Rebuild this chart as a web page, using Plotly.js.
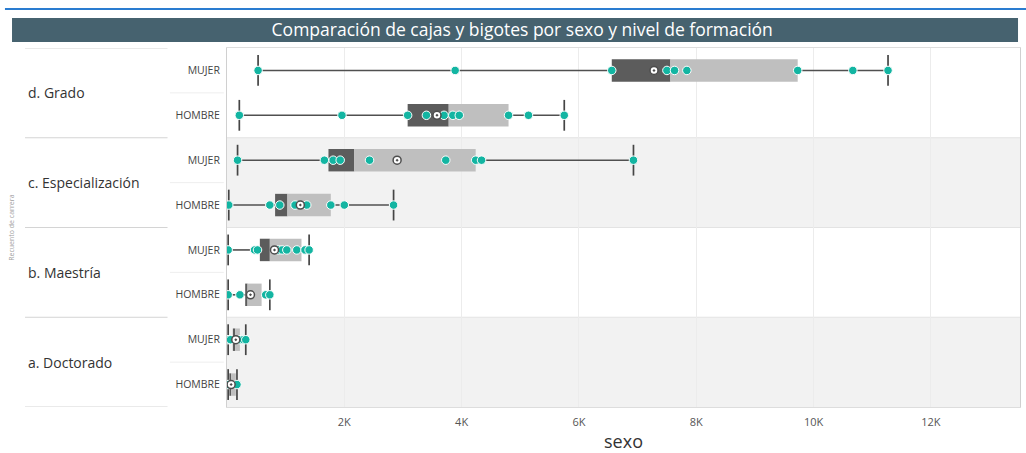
<!DOCTYPE html>
<html>
<head>
<meta charset="utf-8">
<script src="https://cdn.plot.ly/plotly-3.0.1.min.js"></script>
<style>html,body{margin:0;padding:0;background:#fff;}#chart{width:1026px;height:453px;}</style>
</head>
<body>
<div id="chart"></div>
<script>
// ---- data ----
const groups = ['d. Grado', 'c. Especialización', 'b. Maestría', 'a. Doctorado'];
const sexes = ['MUJER', 'HOMBRE'];
// one entry per row, top to bottom (group, sexo)
const rowMin    = [530,   210,  180,  30,   20,   20,  20,  20];
const rowQ1     = [6560,  3080, 1730, 820,  560,  310, 100, 40];
const rowMedian = [7560,  3780, 2170, 1030, 730,  350, 140, 70];
const rowQ3     = [9730,  4800, 4240, 1770, 1270, 590, 220, 150];
const rowMax    = [11270, 5750, 6930, 2840, 1400, 730, 320, 170];
const rowMean   = [7280,  3580, 2900, 1250, 810,  400, 150, 70];
const rowPoints = [
  [530, 3890, 6560, 7500, 7630, 7840, 9730, 10670, 11270],
  [210, 1960, 3080, 3400, 3700, 3850, 3960, 4800, 5140, 5750],
  [180, 1660, 1810, 1930, 2430, 3730, 4240, 4340, 6930],
  [30, 730, 900, 1160, 1360, 1770, 2000, 2840],
  [20, 470, 520, 880, 940, 1020, 1190, 1330, 1400],
  [20, 220, 660, 730],
  [20, 60, 220, 280, 320],
  [20, 170]
];
const xTickVals = [2000, 4000, 6000, 8000, 10000, 12000];
const xTickText = ['2K', '4K', '6K', '8K', '10K', '12K'];

// ---- build ----
const nRows = groups.length * sexes.length;
const rowPos = [], rowLabel = [];
for (let g = 0; g < groups.length; g++) {
  for (let s = 0; s < sexes.length; s++) {
    rowPos.push(g * sexes.length + s + 0.5);
    rowLabel.push(sexes[s]);
  }
}

const teal = '#13b5a2';
const whiskX = [], whiskY = [];
for (let i = 0; i < nRows; i++) {
  whiskX.push(rowMin[i], rowQ1[i], null, rowQ3[i], rowMax[i], null);
  whiskY.push(rowPos[i], rowPos[i], null, rowPos[i], rowPos[i], null);
}
const capX = [], capY = [];
for (let i = 0; i < nRows; i++) {
  capX.push(rowMin[i], rowMax[i]);
  capY.push(rowPos[i], rowPos[i]);
}
const ptX = [], ptY = [];
for (let i = 0; i < nRows; i++) {
  rowPoints[i].forEach(v => { ptX.push(v); ptY.push(rowPos[i]); });
}

const traces = [
  { type: 'bar', orientation: 'h', y: rowPos, base: rowQ1,
    x: rowMedian.map((m, i) => m - rowQ1[i]), width: 0.5,
    marker: { color: '#5c5c5c', line: { width: 0 } }, hoverinfo: 'skip' },
  { type: 'bar', orientation: 'h', y: rowPos, base: rowMedian,
    x: rowQ3.map((q, i) => q - rowMedian[i]), width: 0.5,
    marker: { color: '#bfbfbf', line: { width: 0 } }, hoverinfo: 'skip' },
  { type: 'scatter', mode: 'lines', x: whiskX, y: whiskY,
    line: { color: '#505050', width: 1.6 }, hoverinfo: 'skip' },
  { type: 'scatter', mode: 'markers', x: capX, y: capY,
    marker: { symbol: 'line-ns', size: 22, line: { color: '#454545', width: 1.7 } }, hoverinfo: 'skip' },
  { type: 'scatter', mode: 'markers', x: ptX, y: ptY,
    marker: { color: teal, size: 8.5, line: { color: '#ffffff', width: 1 } } },
  { type: 'scatter', mode: 'markers', x: rowMean, y: rowPos,
    marker: { symbol: 'circle-dot', color: '#ffffff', size: 8, line: { color: '#4d4d4d', width: 1.5 } } }
];

const shapes = [];
const annotations = [];
// title bar + top blue line
shapes.push({ type: 'rect', xref: 'paper', yref: 'paper', x0: -0.2711, x1: 0.9975, y0: 1.0167, y1: 1.0836,
  fillcolor: '#46626f', line: { width: 0 }, layer: 'below' });
shapes.push({ type: 'line', xref: 'paper', yref: 'paper', x0: -0.28, x1: 1.008, y0: 1.1085, y1: 1.1085,
  line: { color: '#2a7cd0', width: 2 } });
// bands and separators
for (let g = 0; g < groups.length; g++) {
  const y0 = g * sexes.length, y1 = y0 + sexes.length;
  if (g % 2 === 1) {
    shapes.push({ type: 'rect', xref: 'paper', yref: 'y', x0: 0, x1: 1, y0: y0, y1: y1,
      fillcolor: '#f2f2f2', line: { width: 0 }, layer: 'below' });
  }
  annotations.push({ xref: 'paper', yref: 'y', x: -0.253, y: (y0 + y1) / 2, xanchor: 'left', yanchor: 'middle',
    text: groups[g], showarrow: false, font: { family: 'Open Sans, sans-serif', size: 14, color: '#333333' } });
  shapes.push({ type: 'line', xref: 'paper', yref: 'y', x0: -0.2547, x1: -0.075, y0: y0, y1: y0,
    line: { color: '#d4d4d4', width: 1 } });
  shapes.push({ type: 'line', xref: 'paper', yref: 'y', x0: -0.072, x1: -0.004, y0: y0 + 1, y1: y0 + 1,
    line: { color: '#eeeeee', width: 1 } });
  if (g > 0) {
    shapes.push({ type: 'line', xref: 'paper', yref: 'y', x0: 0, x1: 1, y0: y0, y1: y0,
      line: { color: '#e3e3e3', width: 1 }, layer: 'below' });
  }
}
shapes.push({ type: 'line', xref: 'paper', yref: 'y', x0: -0.2547, x1: -0.075, y0: nRows, y1: nRows,
  line: { color: '#d4d4d4', width: 1 } });

annotations.push({ xref: 'paper', yref: 'paper', x: -0.272, y: 0.5, xanchor: 'center', yanchor: 'middle',
  text: 'Recuento de carrera', textangle: -90, showarrow: false,
  font: { family: 'Open Sans, sans-serif', size: 7, color: '#a0a0a0' } });

const layout = {
  width: 1026, height: 453,
  margin: { l: 227, r: 6, t: 48, b: 46, pad: 0 },
  paper_bgcolor: '#ffffff', plot_bgcolor: 'rgba(0,0,0,0)',
  showlegend: false, barmode: 'overlay', hovermode: false,
  font: { family: 'Open Sans, sans-serif', color: '#444' },
  title: { text: 'Comparación de cajas y bigotes por sexo y nivel de formación',
    xref: 'container', yref: 'container', x: 0.509, xanchor: 'center', y: 0.934, yanchor: 'middle',
    font: { family: 'Open Sans, sans-serif', size: 17.5, color: '#ffffff' } },
  xaxis: { range: [0, 13520], tickvals: xTickVals, ticktext: xTickText,
    showgrid: true, gridcolor: '#ececec', gridwidth: 1, zeroline: false,
    showline: true, linecolor: '#dddddd', mirror: true,
    tickfont: { size: 11, color: '#555555' }, ticks: '', ticklabelstandoff: 5,
    title: { text: 'sexo', font: { size: 18, color: '#333333' }, standoff: 7 } },
  yaxis: { range: [nRows, 0], tickvals: rowPos, ticktext: rowLabel,
    showgrid: false, zeroline: false, showline: true, linecolor: '#d0d0d0', mirror: true,
    tickfont: { size: 10.5, color: '#444444' }, ticks: '', ticklabelstandoff: 4 },
  shapes: shapes, annotations: annotations
};

Plotly.newPlot('chart', traces, layout, { displayModeBar: false, staticPlot: true });
</script>
</body>
</html>
